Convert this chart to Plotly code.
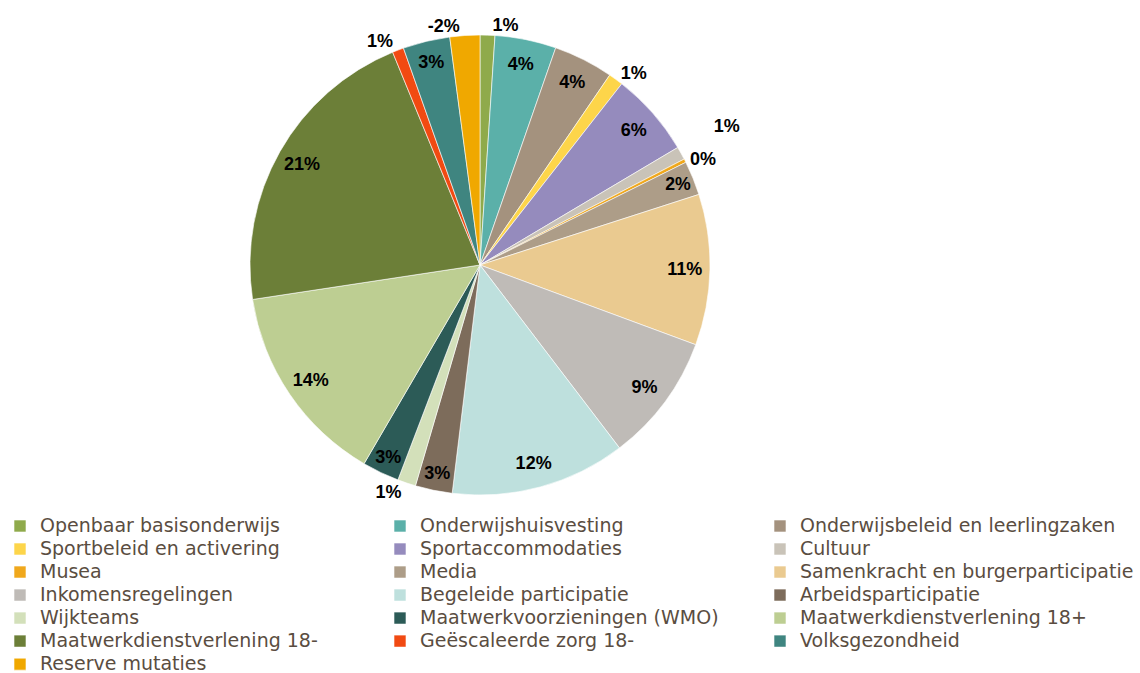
import plotly.graph_objects as go

categories = [
    "Openbaar basisonderwijs", "Onderwijshuisvesting", "Onderwijsbeleid en leerlingzaken",
    "Sportbeleid en activering", "Sportaccommodaties", "Cultuur",
    "Musea", "Media", "Samenkracht en burgerparticipatie",
    "Inkomensregelingen", "Begeleide participatie", "Arbeidsparticipatie",
    "Wijkteams", "Maatwerkvoorzieningen (WMO)", "Maatwerkdienstverlening 18+",
    "Maatwerkdienstverlening 18-", "Geëscaleerde zorg 18-", "Volksgezondheid",
    "Reserve mutaties",
]
# share of total, in percent (signed)
shares = [1.04, 4.3, 4.2, 1.03, 5.9, 0.92, 0.25, 2.4, 10.6, 9.0, 12.3, 2.6,
          1.28, 2.6, 14.2, 21.2, 0.8, 3.3, -2.1]

colors = ["#8FAA4B", "#5BB0A9", "#A4927E", "#FDD54A", "#958BBD", "#C9C3B8",
          "#F0A81C", "#AD9D88", "#EACA90", "#BFBBB7", "#BEE0DD", "#7D6C5B",
          "#D3E0BA", "#2C5B57", "#BDCE92", "#6C7F38", "#F14A12", "#3F8580",
          "#F0A800"]

# label placement (style): position and which text layer draws it
label_pos = ["outside", "inside", "inside", "outside", "inside", "outside",
             "outside", "inside", "inside", "inside", "inside", "inside",
             "outside", "inside", "inside", "inside", "outside", "inside",
             "outside"]
label_layer = [0, 0, 0, 0, 0, 2, 0, 0, 0, 0, 0, 0, 0, 0, 0, 0, 0, 0, 1]

sizes = [abs(v) for v in shares]
texts = [f"{v:.0f}%" for v in shares]
legend_labels = [f'<span style="font-size:19px">{c}</span>' for c in categories]

W, H = 1140, 673
CX, CY, R = 480, 265, 230
domain = dict(x=[(CX - R) / W, (CX + R) / W], y=[1 - (CY + R) / H, 1 - (CY - R) / H])
R3 = 268
domain_far = dict(x=[(CX - R3) / W, (CX + R3) / W], y=[1 - (2 * R3) / H, 1.0])

label_font = dict(family="Liberation Sans", size=18, color="black", weight="bold")

fig = go.Figure()
fig.add_trace(go.Pie(
    labels=legend_labels, values=sizes, sort=False, direction="clockwise",
    rotation=0, domain=domain,
    marker=dict(colors=colors, line=dict(color="white", width=0.6)),
    textinfo="none", hoverinfo="label+percent", showlegend=True,
))

layer_specs = [(domain, 0.78, 0), (domain, 0.0, 0), (domain_far, 0.0, -2.3)]
for k, (dom, hole, rot) in enumerate(layer_specs):
    fig.add_trace(go.Pie(
        labels=legend_labels, values=sizes, sort=False, direction="clockwise",
        rotation=rot, domain=dom, hole=hole,
        marker=dict(colors=["rgba(0,0,0,0)"] * len(sizes), line=dict(width=0)),
        text=[t if label_layer[i] == k else "" for i, t in enumerate(texts)],
        textinfo="text",
        textposition=[p if label_layer[i] == k else "none" for i, p in enumerate(label_pos)],
        insidetextorientation="horizontal",
        textfont=label_font,
        hoverinfo="skip", showlegend=False,
    ))

fig.update_layout(
    width=W, height=H,
    margin=dict(l=0, r=0, t=0, b=0, autoexpand=False),
    paper_bgcolor="white", plot_bgcolor="white",
    legend=dict(
        orientation="h", x=0, xanchor="left", y=1 - 509.5 / H, yanchor="top",
        entrywidth=335, entrywidthmode="pixels", maxheight=1,
        font=dict(family="DejaVu Sans", size=15.4, color="#5A4D41"),
        itemclick=False, itemdoubleclick=False,
    ),
)

fig.write_html("out.html", config={"displayModeBar": False},
               post_script="document.body.style.margin='0px';")
